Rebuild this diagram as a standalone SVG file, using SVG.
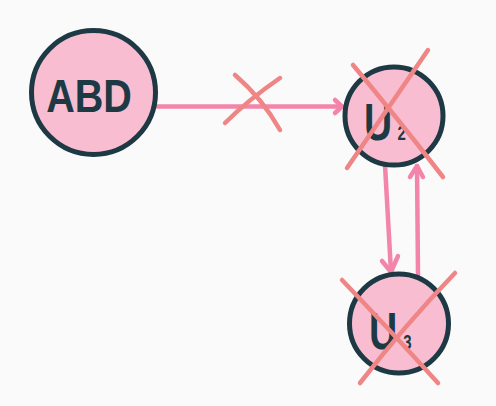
<svg xmlns="http://www.w3.org/2000/svg" width="496" height="406" viewBox="0 0 496 406">
<style>
.node{fill:#f8bdd1;stroke:#1c3944;stroke-width:5}
.lbl{font-family:"Liberation Sans","DejaVu Sans",sans-serif;fill:#1c3944;font-weight:bold}
.sub{font-size:20px}
.edge{fill:none;stroke:#f285a9;stroke-width:4.5;stroke-linecap:round;stroke-linejoin:round}
.cross{fill:none;stroke:#ef8585;stroke-width:4.5;stroke-linecap:round}
</style>
<rect width="496" height="406" fill="#fafafa"/>
<g id="connectors">
<g id="edge-abd-u2">
<path class="edge" d="M157 106.5 L342 106.5"/>
<path class="edge" d="M335 100 L342 106.5 L335 113"/>
<path class="cross" d="M225 123 Q248 100 280 78"/>
<path class="cross" d="M235 75 Q262 98 280 130"/>
</g>
<g id="edge-u2-u3">
<path class="edge" d="M385 165 L391 272"/>
<path class="edge" d="M382 261 L391 272 L398 256"/>
</g>
<g id="edge-u3-u2">
<path class="edge" d="M418 275 L417 166"/>
<path class="edge" d="M410 177 L417 166 L423 177"/>
</g>
</g>
<g id="node-abd">
<circle class="node" cx="93.5" cy="92.5" r="62"/>
<text class="lbl" transform="translate(89,112) scale(0.86,1)" font-size="46" text-anchor="middle">ABD</text>
</g>
<g id="node-u2">
<circle class="node" cx="394" cy="116" r="49"/>
<text class="lbl" transform="translate(364,140) scale(0.75,1)" font-size="52">U<tspan class="sub" dx="7">2</tspan></text>
<path class="cross" d="M353 65 Q395 115 443 177"/>
<path class="cross" d="M428 50 Q390 105 347 168"/>
</g>
<g id="node-u3">
<circle class="node" cx="399" cy="323.5" r="49.5"/>
<text class="lbl" transform="translate(369,349) scale(0.75,1)" font-size="52">U<tspan class="sub" dx="8">3</tspan></text>
<path class="cross" d="M342 280 Q388 328 438 383"/>
<path class="cross" d="M455 273 Q405 325 360 383"/>
</g>
</svg>
